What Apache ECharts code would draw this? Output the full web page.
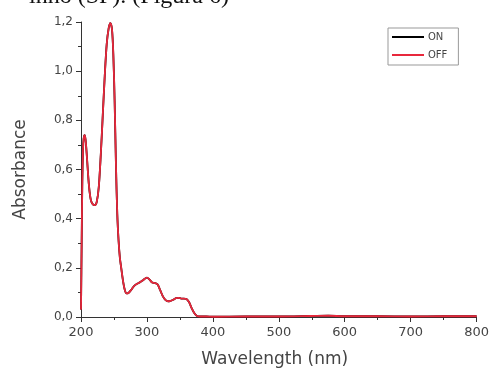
<!DOCTYPE html>
<html>
<head>
<meta charset="utf-8">
<style>
  html, body { margin: 0; padding: 0; background: #ffffff; }
  #chart { width: 492px; height: 373px; }
</style>
<script src="https://cdn.jsdelivr.net/npm/echarts@6/dist/echarts.min.js"></script>
</head>
<body>
<div id="chart"></div>
<script>
// Wavelength (nm) sample positions
var wavelengths = [200, 201, 202, 203, 204, 205.5, 207, 209, 211, 213, 215, 218, 221, 224, 227, 230, 233, 236, 239, 242, 244.5, 247, 249, 251, 253, 255, 257, 259, 261, 263, 266, 269, 272, 276, 280, 285, 290, 295, 300, 304, 308, 312, 316, 320, 324, 328, 332, 336, 340, 344, 348, 352, 356, 360, 364, 368, 372, 376, 380, 390, 400, 450, 500, 550, 575, 600, 650, 700, 750, 800];
// Absorbance, OFF (red)
var offValues = [0.03, 0.30, 0.55, 0.68, 0.725, 0.74, 0.72, 0.65, 0.57, 0.51, 0.475, 0.458, 0.455, 0.47, 0.53, 0.66, 0.82, 0.98, 1.11, 1.175, 1.195, 1.17, 1.07, 0.88, 0.62, 0.42, 0.31, 0.24, 0.20, 0.16, 0.115, 0.096, 0.098, 0.11, 0.125, 0.135, 0.142, 0.152, 0.16, 0.152, 0.14, 0.138, 0.133, 0.11, 0.085, 0.07, 0.064, 0.066, 0.07, 0.077, 0.078, 0.075, 0.075, 0.073, 0.06, 0.035, 0.015, 0.004, 0.002, 0.002, 0.001, 0.002, 0.002, 0.004, 0.005, 0.003, 0.003, 0.002, 0.003, 0.003];
// Absorbance, ON (black) – hidden under the red curve, same readings
var onValues = [0.03, 0.30, 0.55, 0.68, 0.725, 0.74, 0.72, 0.65, 0.57, 0.51, 0.475, 0.458, 0.455, 0.47, 0.53, 0.66, 0.82, 0.98, 1.11, 1.175, 1.195, 1.17, 1.07, 0.88, 0.62, 0.42, 0.31, 0.24, 0.20, 0.16, 0.115, 0.096, 0.098, 0.11, 0.125, 0.135, 0.142, 0.152, 0.16, 0.152, 0.14, 0.138, 0.133, 0.11, 0.085, 0.07, 0.064, 0.066, 0.07, 0.077, 0.078, 0.075, 0.075, 0.073, 0.06, 0.035, 0.015, 0.004, 0.002, 0.002, 0.001, 0.002, 0.002, 0.004, 0.005, 0.003, 0.003, 0.002, 0.003, 0.003];
var seriesNames = ['ON', 'OFF'];
var xTicks = [200, 300, 400, 500, 600, 700, 800];
var yTicks = [0.0, 0.2, 0.4, 0.6, 0.8, 1.0, 1.2];
var xName = 'Wavelength (nm)';
var yName = 'Absorbance';
var captionText = 'inho (SP). (Figura 6)';

function pairs(xs, ys) {
  return xs.map(function (x, i) { return [x, ys[i]]; });
}

var chart = echarts.init(document.getElementById('chart'), null, { renderer: 'canvas' });
var axisColor = '#333';
chart.setOption({
  animation: false,
  backgroundColor: '#ffffff',
  graphic: [{
    type: 'text',
    style: {
      text: captionText,
      x: 229,
      y: 9,
      align: 'right',
      verticalAlign: 'bottom',
      font: '24px "Liberation Serif", serif',
      fill: '#111'
    }
  }],
  grid: { left: 81, right: 13, top: 22, bottom: 56, containLabel: false },
  legend: {
    data: seriesNames,
    orient: 'vertical',
    left: 388,
    top: 28,
    icon: 'rect',
    itemWidth: 32,
    itemHeight: 2,
    itemGap: 8,
    padding: [4, 11, 5, 4],
    borderColor: '#999',
    borderWidth: 1,
    textStyle: { fontFamily: 'DejaVu Sans', fontSize: 10, color: '#444', padding: [0, 0, 0, -1] }
  },
  xAxis: {
    type: 'value',
    min: xTicks[0],
    max: xTicks[xTicks.length - 1],
    interval: 100,
    name: xName,
    nameLocation: 'middle',
    nameGap: 34,
    nameTextStyle: { fontFamily: 'DejaVu Sans', fontSize: 17, color: '#444', padding: [0, 8, 0, 0] },
    axisLine: { lineStyle: { color: axisColor, width: 1 } },
    axisTick: { inside: false, length: 5, lineStyle: { color: axisColor } },
    minorTick: { show: true, splitNumber: 2, length: 3, lineStyle: { color: axisColor } },
    axisLabel: { margin: 9, fontFamily: 'DejaVu Sans', fontSize: 13, color: '#444' },
    splitLine: { show: false }
  },
  yAxis: {
    type: 'value',
    min: yTicks[0],
    max: yTicks[yTicks.length - 1],
    interval: 0.2,
    name: yName,
    nameLocation: 'middle',
    nameGap: 52,
    nameTextStyle: { fontFamily: 'DejaVu Sans', fontSize: 17, color: '#444' },
    axisLine: { show: true, lineStyle: { color: axisColor, width: 1 } },
    axisTick: { show: true, inside: false, length: 5, lineStyle: { color: axisColor } },
    minorTick: { show: true, splitNumber: 2, length: 3, lineStyle: { color: axisColor } },
    axisLabel: {
      margin: 8, fontFamily: 'DejaVu Sans', fontSize: 12, color: '#444',
      formatter: function (v) { return v.toFixed(1).replace('.', ','); }
    },
    splitLine: { show: false }
  },
  series: [
    {
      name: seriesNames[0], type: 'line', data: pairs(wavelengths, onValues),
      showSymbol: false, symbol: 'none', smooth: 0.3,
      color: '#000000', lineStyle: { color: '#000000', width: 1.8 }
    },
    {
      name: seriesNames[1], type: 'line', data: pairs(wavelengths, offValues),
      showSymbol: false, symbol: 'none', smooth: 0.3,
      color: '#e8283c', lineStyle: { color: '#e8283c', width: 1.8 }
    }
  ]
});
</script>
</body>
</html>
